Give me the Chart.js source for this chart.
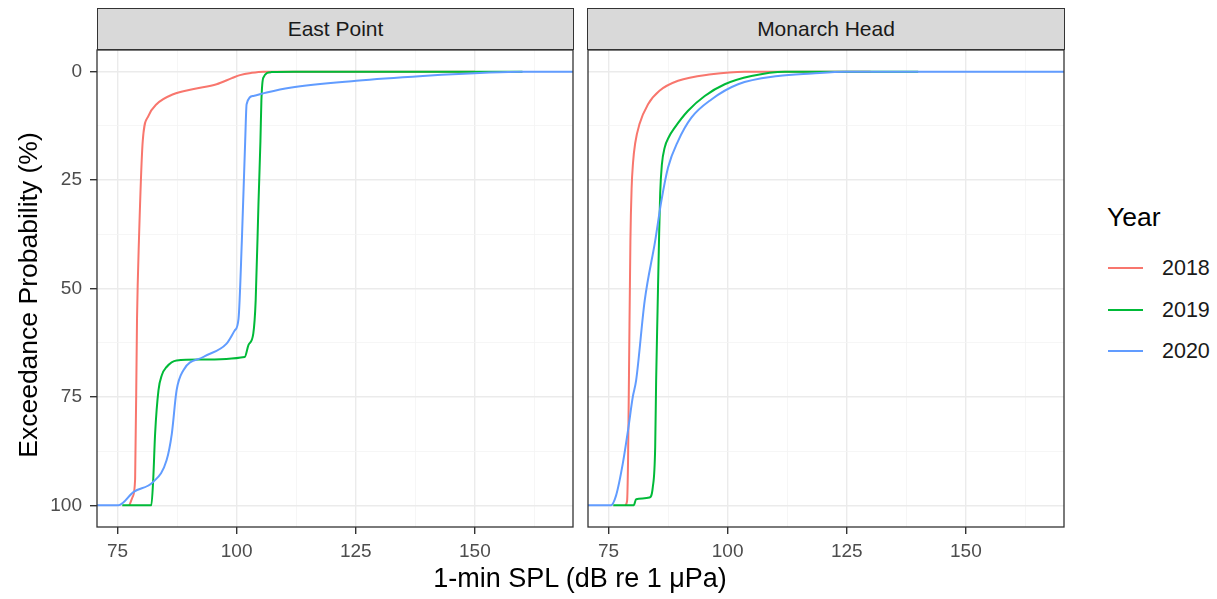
<!DOCTYPE html>
<html>
<head>
<meta charset="utf-8">
<script src="https://cdn.jsdelivr.net/npm/chart.js@4/dist/chart.umd.min.js"></script>
<style>
  body { margin: 0; background: #fff; font-family: "Liberation Sans", Arial, sans-serif; }
  #wrap { position: relative; width: 1217px; height: 599px; overflow: hidden; }
  .cv { position: absolute; top: 0; }
  .strip { position: absolute; top: 8px; height: 42px; background: #D9D9D9; border: 1.3px solid #333;
           box-sizing: border-box; font-size: 21px; color: #1A1A1A; display: flex; align-items: center; justify-content: center; }
  #xTitle { position: absolute; left: 380px; width: 400px; top: 563px; text-align: center; font-size: 27px; color: #000; }
  #yTitle { position: absolute; left: 28px; top: 295px; width: 400px; margin-left: -200px; margin-top: -16px;
            text-align: center; font-size: 26.5px; line-height: 32px; color: #000; transform: rotate(-90deg); }
  #legend { position: absolute; left: 1107px; top: 202px; }
  #legend .ttl { font-size: 26.5px; color: #000; height: 54px; }
  #legend .item { position: relative; height: 41.5px; font-size: 21.5px; color: #1A1A1A; }
  #legend .sw { position: absolute; left: 1px; top: 11px; width: 35px; height: 2px; }
  #legend .lab { position: absolute; left: 55px; top: 0; }
</style>
</head>
<body>
<div id="wrap">
  <canvas id="leftChart" class="cv" style="left:0px"></canvas>
  <canvas id="rightChart" class="cv" style="left:580px"></canvas>
  <div class="strip" style="left:97px;width:477px">East Point</div>
  <div class="strip" style="left:587px;width:478px">Monarch Head</div>
  <div id="xTitle">1-min SPL (dB re 1 μPa)</div>
  <div id="yTitle">Exceedance Probability (%)</div>
  <div id="legend"></div>
</div>
<script>
// facets, years and colours
const sites = ['East Point', 'Monarch Head'];
const years = ['2018', '2019', '2020'];
const yearColors = ['#F8766D', '#00BA38', '#619CFF'];

// tick labels
const xMajor = [75, 100, 125, 150];
const xMinor = [87.5, 112.5, 137.5, 162.5];
const yMajor = [0, 25, 50, 75, 100];
const yMinor = [12.5, 37.5, 62.5, 87.5];

// East Point: SPL (dB) vs exceedance probability (%)
const epSpl2018 = [77.5, 78.2, 78.7, 79.1, 79.5, 80.3, 81.5, 83.2, 86.7, 91.0, 95.8, 99.0, 100.7, 103.0, 105.6, 150];
const epProb2018 = [100, 98, 94, 57, 39, 16, 10.2, 7.5, 5.2, 4.0, 2.9, 1.5, 0.8, 0.3, 0, 0];
const epSpl2019 = [76, 82.1, 82.5, 82.9, 83.6, 84.3, 85.3, 87.4, 92.3, 101.7, 102.5, 103.5, 104.0, 104.6, 105.0, 105.2, 105.6, 107.3, 112, 160];
const epProb2019 = [100, 100, 94, 83.4, 73.5, 70, 68.1, 66.6, 66.4, 65.8, 63, 60.4, 52.8, 30, 16, 6.7, 1.4, 0.1, 0, 0];
const epSpl2020 = [70, 75.2, 78.4, 82.5, 85.3, 86.4, 87.4, 88.8, 93.0, 97.9, 99.6, 100.4, 101.1, 101.8, 102.1, 103.5, 106.3, 111.2, 125.1, 139.1, 153, 160, 175];
const epProb2020 = [100, 100, 96.9, 94.6, 89.6, 83.5, 73.5, 68.9, 65.8, 62.7, 59.7, 57, 39, 16, 7.5, 5.6, 4.8, 3.7, 2.1, 1.0, 0.2, 0, 0];

// Monarch Head
const mhSpl2018 = [78.5, 78.9, 79.1, 79.3, 79.6, 79.85, 80.15, 80.6, 81.5, 83.3, 85.7, 89.6, 96.6, 103.6, 130];
const mhProb2018 = [100, 99, 90, 70, 39, 27, 21, 16.5, 12.1, 7.5, 4.4, 2.1, 0.6, 0, 0];
const mhSpl2019 = [76, 80.3, 80.8, 83.6, 84.3, 84.8, 85.0, 85.3, 85.6, 85.85, 86.2, 86.8, 87.7, 88.9, 91.7, 95.2, 99.4, 105, 112, 140];
const mhProb2019 = [100, 100, 98.6, 98.2, 95.8, 86.6, 71.2, 55, 39, 28, 21.5, 17.5, 15, 12.9, 9.0, 5.6, 2.9, 1.0, 0, 0];
const mhSpl2020 = [70, 75.5, 76.6, 78.0, 79.1, 80.1, 80.8, 82.6, 84.8, 86.1, 87.5, 89.6, 92.4, 96.6, 102.2, 110.6, 117.7, 124.7, 175];
const mhProb2020 = [100, 100, 97.7, 90.4, 82.7, 75, 71.2, 52.8, 39, 29.8, 22.1, 16, 10.6, 6.4, 2.9, 1.0, 0.4, 0, 0];

const siteSeries = [
  [[epSpl2018, epProb2018], [epSpl2019, epProb2019], [epSpl2020, epProb2020]],
  [[mhSpl2018, mhProb2018], [mhSpl2019, mhProb2019], [mhSpl2020, mhProb2020]],
];

const H = 599;

// box round each panel
const panelBox = {
  id: 'panelBox',
  afterDraw(chart) {
    const a = chart.chartArea, c = chart.ctx;
    c.save();
    c.strokeStyle = '#333';
    c.lineWidth = 1.3;
    c.strokeRect(a.left, a.top, a.right - a.left, a.bottom - a.top);
    c.restore();
  }
};

function isMajor(list, v) { return list.some(m => Math.abs(m - v) < 1e-6); }

function gridOpts(major) {
  return {
    color: ctx => isMajor(major, ctx.tick ? ctx.tick.value : NaN) ? '#EBEBEB' : '#F4F4F4',
    lineWidth: ctx => isMajor(major, ctx.tick ? ctx.tick.value : NaN) ? 1.4 : 0.8,
    tickColor: ctx => isMajor(major, ctx.tick ? ctx.tick.value : NaN) ? '#333' : 'rgba(0,0,0,0)',
    tickLength: 7,
  };
}

function makeChart(id, siteIdx, width, isLeft) {
  const canvas = document.getElementById(id);
  canvas.width = width; canvas.height = H;
  canvas.style.width = width + 'px'; canvas.style.height = H + 'px';

  const datasets = years.map((yr, i) => ({
    label: yr,
    data: siteSeries[siteIdx][i][0].map((x, j) => ({ x: x, y: siteSeries[siteIdx][i][1][j] })),
    borderColor: yearColors[i],
    borderWidth: 2,
    pointRadius: 0,
    fill: false,
    cubicInterpolationMode: 'monotone',
    order: years.length - i,
  }));

  return new Chart(canvas, {
    type: 'line',
    data: { datasets: datasets },
    plugins: [panelBox],
    options: {
      responsive: false,
      animation: false,
      layout: { padding: isLeft ? { top: 50, right: 7, left: 0, bottom: 0 } : { top: 50, right: 16, left: 8, bottom: 0 } },
      plugins: { legend: { display: false }, tooltip: { enabled: false } },
      scales: {
        x: {
          type: 'linear',
          min: 70.7,
          max: 170.6,
          afterBuildTicks: s => { s.ticks = xMajor.concat(xMinor).sort((a, b) => a - b).map(v => ({ value: v })); },
          afterFit: s => { s.height = 72; },
          ticks: {
            autoSkip: false, maxRotation: 0, padding: 6,
            color: '#4D4D4D', font: { family: 'Liberation Sans', size: 19 },
            callback: v => isMajor(xMajor, v) ? String(v) : '',
          },
          grid: gridOpts(xMajor),
          border: { display: false },
        },
        y: {
          type: 'linear',
          reverse: true,
          min: -5,
          max: 105,
          afterBuildTicks: s => { s.ticks = yMajor.concat(yMinor).sort((a, b) => a - b).map(v => ({ value: v })); },
          afterFit: s => { s.width = isLeft ? 97 : 0; },
          ticks: {
            display: isLeft, autoSkip: false, padding: 8,
            color: '#4D4D4D', font: { family: 'Liberation Sans', size: 19 },
            callback: v => isMajor(yMajor, v) ? String(v) : '',
          },
          grid: Object.assign(gridOpts(yMajor), { drawTicks: isLeft }),
          border: { display: false },
        },
      },
    },
  });
}

makeChart('leftChart', 0, 580, true);
makeChart('rightChart', 1, 500, false);

// legend
const legend = document.getElementById('legend');
legend.innerHTML = '<div class="ttl">Year</div>' + years.map((yr, i) =>
  '<div class="item"><span class="sw" style="background:' + yearColors[i] + '"></span><span class="lab">' + yr + '</span></div>'
).join('');
</script>
</body>
</html>
